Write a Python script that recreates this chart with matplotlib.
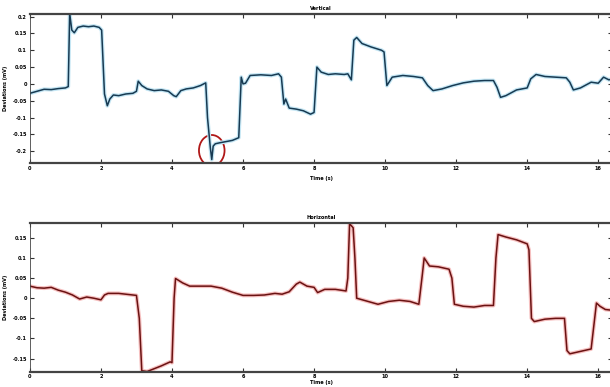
import numpy as np
import matplotlib
matplotlib.use("Agg")
import matplotlib.pyplot as plt
from matplotlib.patches import Ellipse

# vertical deviation trace (time in s, deviation in mV)
t_vert = [0.0, 0.2, 0.4, 0.6, 0.8, 1.0, 1.08, 1.12, 1.18, 1.25, 1.35, 1.5, 1.65, 1.8,
          1.95, 2.02, 2.1, 2.18, 2.25, 2.35, 2.5, 2.7, 2.9, 3.0, 3.05, 3.15, 3.3, 3.5,
          3.7, 3.9, 4.05, 4.12, 4.25, 4.4, 4.6, 4.8, 4.95, 5.0, 5.08, 5.12, 5.16, 5.22,
          5.35, 5.5, 5.7, 5.88, 5.95, 6.0, 6.07, 6.2, 6.5, 6.8, 7.0, 7.08, 7.15, 7.2,
          7.3, 7.5, 7.7, 7.9, 8.0, 8.08, 8.2, 8.4, 8.6, 8.85, 8.95, 9.05, 9.12, 9.2,
          9.35, 9.6, 9.9, 9.97, 10.05, 10.2, 10.5, 10.8, 11.05, 11.2, 11.35, 11.6,
          11.9, 12.2, 12.5, 12.8, 13.05, 13.15, 13.25, 13.4, 13.7, 14.0, 14.1, 14.25,
          14.5, 14.8, 15.1, 15.2, 15.3, 15.5, 15.8, 16.0, 16.15, 16.3, 16.4]
v_vert = [-0.028, -0.022, -0.016, -0.017, -0.014, -0.012, -0.008, 0.21, 0.16, 0.152,
          0.168, 0.172, 0.170, 0.172, 0.168, 0.16, -0.03, -0.065, -0.045, -0.033,
          -0.035, -0.03, -0.028, -0.022, 0.008, -0.005, -0.015, -0.02, -0.018, -0.022,
          -0.035, -0.038, -0.02, -0.015, -0.012, -0.005, 0.003, -0.1, -0.19, -0.225,
          -0.185, -0.178, -0.175, -0.172, -0.168, -0.16, 0.02, 0.0, 0.002, 0.025,
          0.027, 0.025, 0.03, 0.02, -0.06, -0.045, -0.072, -0.075, -0.08, -0.09,
          -0.085, 0.05, 0.035, 0.028, 0.03, 0.028, 0.03, 0.012, 0.13, 0.138, 0.12,
          0.11, 0.1, 0.095, -0.005, 0.02, 0.025, 0.022, 0.018, -0.005, -0.02, -0.015,
          -0.005, 0.003, 0.008, 0.01, 0.01, -0.01, -0.04, -0.035, -0.018, -0.012,
          0.015, 0.028, 0.022, 0.02, 0.018, 0.005, -0.018, -0.012, 0.005, 0.002,
          0.02, 0.012, 0.015]

# horizontal deviation trace
t_horz = [0.0, 0.2, 0.4, 0.6, 0.8, 1.0, 1.2, 1.4, 1.6, 1.8, 2.0, 2.1, 2.2, 2.5, 2.8,
          3.0, 3.08, 3.15, 3.3, 3.5, 3.7, 3.95, 4.0, 4.06, 4.1, 4.3, 4.5, 4.8, 5.1,
          5.4, 5.7, 6.0, 6.3, 6.6, 6.9, 7.1, 7.3, 7.5, 7.6, 7.8, 8.0, 8.1, 8.3, 8.6,
          8.9, 8.95, 9.0, 9.1, 9.15, 9.2, 9.4, 9.6, 9.8, 10.1, 10.4, 10.7, 10.95,
          11.05, 11.1, 11.25, 11.5, 11.8, 11.88, 11.95, 12.2, 12.5, 12.8, 13.05,
          13.12, 13.18, 13.4, 13.7, 14.0, 14.05, 14.12, 14.2, 14.5, 14.8, 15.05,
          15.12, 15.2, 15.5, 15.8, 15.9, 15.95, 16.05, 16.2, 16.4]
v_horz = [0.03, 0.026, 0.025, 0.027, 0.02, 0.015, 0.008, -0.002, 0.003, 0.0, -0.004,
          0.008, 0.012, 0.012, 0.009, 0.007, -0.05, -0.18, -0.182, -0.175, -0.168,
          -0.158, -0.16, 0.0, 0.049, 0.038, 0.03, 0.03, 0.03, 0.025, 0.015, 0.007,
          0.007, 0.008, 0.012, 0.01, 0.016, 0.035, 0.04, 0.03, 0.027, 0.014, 0.022,
          0.022, 0.018, 0.05, 0.185, 0.175, 0.1, 0.0, -0.005, -0.01, -0.015, -0.008,
          -0.005, -0.008, -0.015, 0.06, 0.1, 0.08, 0.078, 0.072, 0.05, -0.015, -0.02,
          -0.022, -0.018, -0.018, 0.1, 0.158, 0.152, 0.145, 0.135, 0.12, -0.05,
          -0.058, -0.052, -0.05, -0.05, -0.13, -0.138, -0.132, -0.126, -0.05, -0.012,
          -0.02, -0.028, -0.03]

xticks = np.arange(0, 17, 2)
yticks_vert = [-0.2, -0.15, -0.1, -0.05, 0, 0.05, 0.1, 0.15, 0.2]
yticks_horz = [-0.15, -0.1, -0.05, 0, 0.05, 0.1, 0.15]

fs = 3.6
fig = plt.figure(figsize=(6.1, 3.87), dpi=100)
ax1 = fig.add_axes([0.049, 0.579, 0.955, 0.385])
ax2 = fig.add_axes([0.049, 0.04, 0.955, 0.384])


def style(ax, yticks, ylim):
    ax.set_xlim(0, 16.4)
    ax.set_ylim(*ylim)
    ax.set_xticks(xticks)
    ax.set_yticks(yticks)
    ax.set_xticklabels([str(x) for x in xticks], fontsize=fs, fontweight="bold")
    ax.set_yticklabels([("%g" % y) for y in yticks], fontsize=fs, fontweight="bold")
    ax.tick_params(direction="in", length=3, width=0.8, top=True, right=True,
                   pad=2, color="#333333")
    ax.spines["top"].set_linewidth(1.6)
    ax.spines["bottom"].set_linewidth(1.6)
    ax.spines["left"].set_linewidth(0.6)
    for s in ax.spines.values():
        s.set_color("#444444")
    ax.set_ylabel("Deviations (mV)", fontsize=fs, fontweight="bold", labelpad=3)


ax1.plot(t_vert, v_vert, color="#c4e6f4", lw=2.8, solid_joinstyle="round")
ax1.plot(t_vert, v_vert, color="#173a52", lw=1.1)
style(ax1, yticks_vert, (-0.235, 0.208))
ax1.set_title("Vertical", fontsize=fs, fontweight="bold", pad=3)
ax1.set_xlabel("Time (s)", fontsize=fs, fontweight="bold", labelpad=4)

# red circle round the dip
i_min = int(np.argmin(v_vert))
ax1.add_patch(Ellipse((t_vert[i_min], v_vert[i_min] + 0.027), 0.72, 0.092,
                      fill=False, ec="#b01818", lw=1.3))

ax2.plot(t_horz, v_horz, color="#f6c0c0", lw=2.8, solid_joinstyle="round")
ax2.plot(t_horz, v_horz, color="#6a1212", lw=1.1)
style(ax2, yticks_horz, (-0.182, 0.187))
ax2.set_title("Horizontal", fontsize=fs, fontweight="bold", pad=3)
ax2.set_xlabel("Time (s)", fontsize=fs, fontweight="bold", labelpad=0.5)

fig.savefig("out.png", dpi=100)
